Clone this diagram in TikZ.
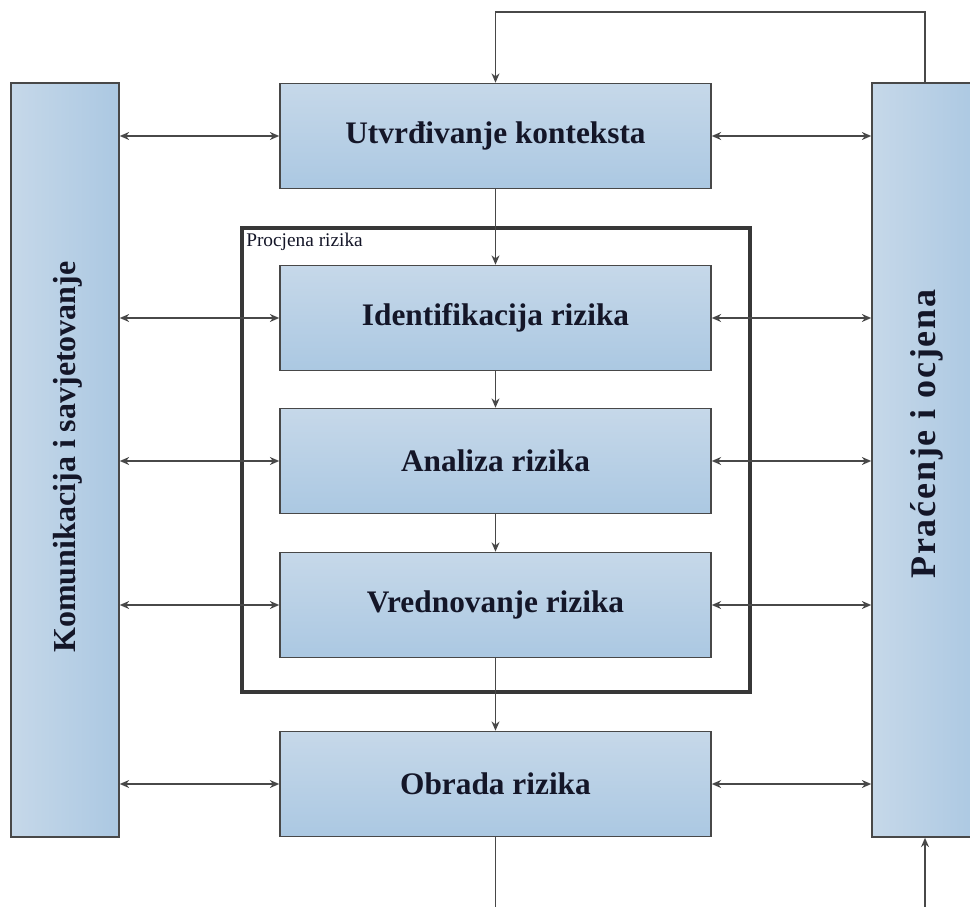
\documentclass[tikz,border=0pt]{standalone}
\usepackage{fontspec}
\setmainfont{Liberation Serif}
\newfontfamily\widefont[LetterSpace=5]{Liberation Serif}
\usetikzlibrary{arrows.meta}
\definecolor{boxlight}{RGB}{198,216,233}
\definecolor{boxdark}{RGB}{171,200,226}
\definecolor{edgegray}{RGB}{72,72,72}
\definecolor{framegray}{RGB}{55,55,55}
\definecolor{txtdark}{RGB}{20,22,40}
\tikzset{
  stepbox/.style={draw=edgegray, line width=1.2pt, top color=boxlight, bottom color=boxdark,
    minimum width=431*0.75pt, minimum height=105*0.75pt, inner sep=0pt,
    font=\fontsize{23.5}{28}\selectfont\bfseries, text=txtdark},
  sidebox/.style={draw=edgegray, line width=1.2pt, left color=boxlight, right color=boxdark,
    minimum width=108*0.75pt, minimum height=754*0.75pt, inner sep=0pt},
  sidetext/.style={rotate=90, font=\fontsize{24}{28}\selectfont\bfseries, text=txtdark},
  link/.style={draw=edgegray, line width=1pt, -{Stealth[length=7pt,width=6pt]}},
  twoway/.style={draw=edgegray, line width=1pt, {Stealth[length=7pt,width=6pt]}-{Stealth[length=7pt,width=6pt]}}
}
\begin{document}
\begin{tikzpicture}[x=0.75pt, y=-0.75pt]
\clip (0,0) rectangle (970,906);
\fill[white] (0,0) rectangle (970,906);

% side columns
\node[sidebox] (kom) at (65,460) {};
\node[sidetext] (komtxt) at (68,457) {Komunikacija i savjetovanje};
\node[sidebox] (prac) at (926,460) {};
\node[sidetext, font=\fontsize{27}{30}\selectfont\bfseries] (practxt) at (927,434) {\widefont Praćenje i ocjena};

% procjena rizika frame
\draw[framegray, line width=2.4pt] (242,228) rectangle (750,692);
\node[anchor=west, inner sep=0pt, font=\fontsize{14.5}{17}\selectfont, text=txtdark] (proc) at (246,242) {Procjena rizika};

% process steps
\node[stepbox] (ctx) at (495.5,136) {Utvrđivanje konteksta};
\node[stepbox] (ident) at (495.5,318) {Identifikacija rizika};
\node[stepbox] (anal) at (495.5,461) {Analiza rizika};
\node[stepbox] (vred) at (495.5,605) {Vrednovanje rizika};
\node[stepbox] (obr) at (495.5,784) {Obrada rizika};

% main flow
\draw[link] (ctx) -- (ident);
\draw[link] (ident) -- (anal);
\draw[link] (anal) -- (vred);
\draw[link] (vred) -- (obr);
\coordinate (outB) at (495.5,910);
\draw[edgegray, line width=1pt] (obr) -- (outB);

% feedback from monitoring
\coordinate (fbR) at (925,12);
\coordinate (fbL) at (495.5,12);
\draw[link] (prac.north -| fbR) -- (fbR) -- (fbL) -- (ctx.north -| fbL);
\coordinate (inB) at (925,910);
\draw[link] (inB) -- (inB |- prac.south);

% communication and monitoring links
\draw[twoway] (kom.east |- ctx) -- (ctx.west);
\draw[twoway] (ctx.east) -- (prac.west |- ctx);
\draw[twoway] (kom.east |- ident) -- (ident.west);
\draw[twoway] (ident.east) -- (prac.west |- ident);
\draw[twoway] (kom.east |- anal) -- (anal.west);
\draw[twoway] (anal.east) -- (prac.west |- anal);
\draw[twoway] (kom.east |- vred) -- (vred.west);
\draw[twoway] (vred.east) -- (prac.west |- vred);
\draw[twoway] (kom.east |- obr) -- (obr.west);
\draw[twoway] (obr.east) -- (prac.west |- obr);
\end{tikzpicture}
\end{document}
